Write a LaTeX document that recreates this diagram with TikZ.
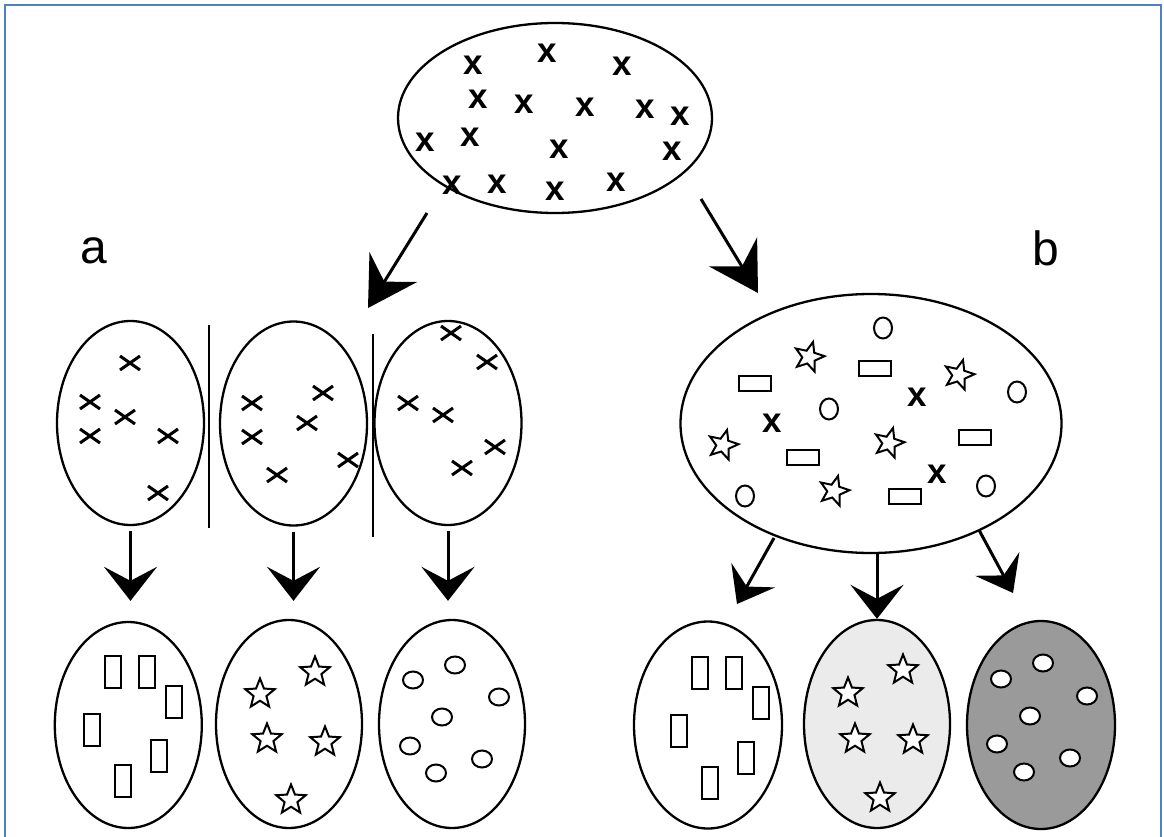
\documentclass[tikz,border=0pt]{standalone}
\usepackage{fontspec}
\setmainfont{Liberation Sans}
\usetikzlibrary{arrows.meta,shapes.geometric}
\definecolor{borderblue}{HTML}{4F81BD}
\definecolor{lightfill}{HTML}{EBEBEB}
\definecolor{darkfill}{HTML}{9A9A9A}
\tikzset{
  blob/.style={ellipse, draw=black, line width=2.3pt, inner sep=0pt},
  xmark/.style={font=\fontsize{35}{35}\selectfont\bfseries, inner sep=0pt},
  lbl/.style={font=\fontsize{48}{48}\selectfont, inner sep=0pt, anchor=base},
  starshape/.style={star, star points=5, star point ratio=2.3, draw=black, line width=2pt, minimum size=31pt, inner sep=0pt, fill=white},
  rectv/.style={rectangle, draw=black, line width=2pt, minimum width=16pt, minimum height=32pt, inner sep=0pt, fill=white},
  recth/.style={rectangle, draw=black, line width=2pt, minimum width=32pt, minimum height=15pt, inner sep=0pt},
  dot/.style={ellipse, draw=black, line width=2pt, minimum width=20pt, minimum height=17pt, inner sep=0pt, fill=white},
  dotv/.style={ellipse, draw=black, line width=2pt, minimum width=18pt, minimum height=21pt, inner sep=0pt},
  bigarrow/.style={line width=3pt, -{Stealth[length=48pt,width=56pt,inset=17pt]}},
  downarrow/.style={line width=3pt, -{Stealth[length=34pt,width=53pt,inset=14pt]}},
  sidearrow/.style={line width=3pt, -{Stealth[length=33pt,width=50pt,inset=13pt]}},
  sep/.style={line width=1.5pt},
  cross/.pic={\draw[line width=3pt] (-10,-7) -- (10,7) (-10,7) -- (10,-7);}
}
\begin{document}
\begin{tikzpicture}[x=1pt,y=-1pt]
\useasboundingbox (0,0) rectangle (1164,837);
% border
\draw[borderblue, line width=2pt] (5,837) -- (5,5) -- (1161,5) -- (1161,837);

% top ellipse
\node[blob, minimum width=314pt, minimum height=190pt] (top) at (555,118) {};
\foreach \p [count=\i] in {(547,53),(473,65),(622,66),(478,99),(524,104),(585,107),(645,109),(680,116),(425,142),(470,137),(559,149),(672,151),(452,185),(497,184),(555,191),(616,182)}
  \node[xmark] (tx\i) at \p {x};

% labels
\node[lbl] (la) at (94,263) {a};
\node[lbl] (lb) at (1046,265) {b};

% big arrows
\coordinate (a1s) at (427,213);
\coordinate (a1e) at (368,308);
\coordinate (a2s) at (701,199);
\coordinate (a2e) at (758,293);
\draw[bigarrow] (a1s) -- (a1e);
\draw[bigarrow] (a2s) -- (a2e);

% middle left ellipses
\node[blob, minimum width=147pt, minimum height=204pt] (m1) at (130.5,423) {};
\node[blob, minimum width=147pt, minimum height=204pt] (m2) at (293.5,423.5) {};
\node[blob, minimum width=147pt, minimum height=204pt] (m3) at (448,423) {};
\coordinate (s1t) at (209,325);
\coordinate (s1b) at (209,528);
\coordinate (s2t) at (373,334);
\coordinate (s2b) at (373,537);
\draw[sep] (s1t) -- (s1b);
\draw[sep] (s2t) -- (s2b);
\foreach \p in {(130,363),(90,402),(125,417),(90,436),(168,436),(158,493),
                (252,403),(323,393),(307,423),(252,437),(277,475),(348,460),
                (451,333),(487,362),(408,403),(443,415),(495,447),(462,468)}
  \pic at \p {cross};

% bottom left ellipses
\node[blob, minimum width=147pt, minimum height=206pt] (b1) at (128.3,725) {};
\node[blob, minimum width=146pt, minimum height=208pt] (b2) at (289,724) {};
\node[blob, minimum width=146pt, minimum height=208pt] (b3) at (452,724) {};
\draw[downarrow, shorten <=5pt, shorten >=20pt] (m1.south) -- (m1.south |- b1.north);
\draw[downarrow, shorten <=5pt, shorten >=18pt] (m2.south) -- (m2.south |- b2.north);
\draw[downarrow, shorten <=5pt, shorten >=18pt] (m3.south) -- (m3.south |- b3.north);
\foreach \p [count=\i] in {(113.3,672.3),(147.3,672.3),(174.3,701.7),(92.3,730),(159.3,756),(123.3,780.7)}
  \node[rectv] (lr\i) at \p {};
\foreach \p [count=\i] in {(260,694),(315,672),(267,739),(325,742),(291,800)}
  \node[starshape] (ls\i) at \p {};
\foreach \p [count=\i] in {(413,680),(455,665),(499,697),(442,717),(410,746),(482,759),(436,773)}
  \node[dot] (lc\i) at \p {};

% middle right ellipse
\node[blob, minimum width=381pt, minimum height=259pt] (mr) at (871,423.5) {};
\foreach \p [count=\i] in {(883,328),(829,409),(1017,392),(745,496),(986,486)}
  \node[dotv] (mc\i) at \p {};
\foreach \p [count=\i] in {(809,357),(959,375),(723,445),(889,443),(834,491)}
  \node[starshape, rotate=-15] (ms\i) at \p {};
\foreach \p [count=\i] in {(755,383),(875,368),(803,457),(975,437),(905,496)}
  \node[recth] (mrr\i) at \p {};
\foreach \p [count=\i] in {(917,397),(772,423),(937,474)}
  \node[xmark] (mx\i) at \p {x};

% bottom right ellipses
\node[blob, minimum width=148pt, minimum height=207pt] (r1) at (708,725) {};
\node[blob, fill=lightfill, minimum width=146pt, minimum height=208pt] (r2) at (877,724) {};
\node[blob, fill=darkfill, minimum width=148pt, minimum height=208pt] (r3) at (1041,725) {};
\coordinate (c1s) at (774,538);
\coordinate (c1e) at (737,604);
\coordinate (c3s) at (979,530);
\coordinate (c3e) at (1013,593);
\draw[sidearrow] (c1s) -- (c1e);
\draw[downarrow] (mr.south -| r2.north) -- (r2.north);
\draw[sidearrow] (c3s) -- (c3e);
\foreach \p [count=\i] in {(700,673),(734,673),(761,703),(679,731),(746,758),(710,783)}
  \node[rectv] (rr\i) at \p {};
\foreach \p [count=\i] in {(903,670),(848,693),(855,739),(913,740),(880,798)}
  \node[starshape] (rs\i) at \p {};
\foreach \p [count=\i] in {(1043,663),(1001,679),(1087,696),(1030,716),(997,744),(1070,758),(1024,772)}
  \node[dot] (rc\i) at \p {};
\end{tikzpicture}
\end{document}
